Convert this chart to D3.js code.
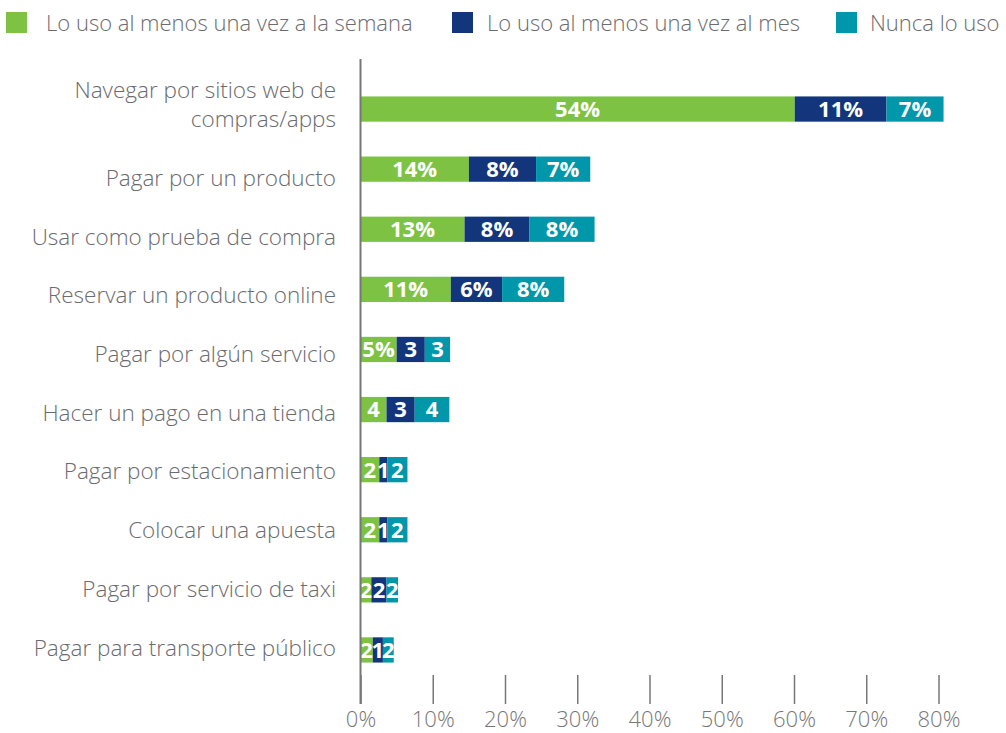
<!doctype html>
<html>
  <head>
    <meta charset="utf-8" />
    <title>Usos del móvil en compras</title>
    <style>
      body {
        margin: 0;
        background: #fff;
      }
      #chart text {
        font-family: 'Open Sans', sans-serif;
      }
    </style>
  </head>
  <body>
    <svg id="chart" width="1006" height="733"></svg>

    <script src="https://d3js.org/d3.v7.min.js"></script>
    <script>
      // categories, top to bottom (\n = line break)
      const categories = [
        'Navegar por sitios web de\ncompras/apps',
        'Pagar por un producto',
        'Usar como prueba de compra',
        'Reservar un producto online',
        'Pagar por algún servicio',
        'Hacer un pago en una tienda',
        'Pagar por estacionamiento',
        'Colocar una apuesta',
        'Pagar por servicio de taxi',
        'Pagar para transporte público',
      ];

      const seriesNames = [
        'Lo uso al menos una vez a la semana',
        'Lo uso al menos una vez al mes',
        'Nunca lo uso',
      ];

      // bar lengths as drawn (in %)
      const weekly = [60.1, 15.0, 14.4, 12.5, 5.0, 3.6, 2.6, 2.6, 1.5, 1.7];
      const monthly = [12.7, 9.3, 9.0, 7.1, 3.9, 3.9, 1.1, 1.1, 2.1, 1.4];
      const never = [7.9, 7.5, 9.0, 8.6, 3.5, 4.8, 2.8, 2.8, 1.6, 1.5];

      // the labels printed on the bars
      const weeklyLabels = ['54%', '14%', '13%', '11%', '5%', '4', '2', '2', '2', '2'];
      const monthlyLabels = ['11%', '8%', '8%', '6%', '3', '3', '1', '1', '2', '1'];
      const neverLabels = ['7%', '7%', '8%', '8%', '3', '4', '2', '2', '2', '2'];

      const xTicks = [0, 10, 20, 30, 40, 50, 60, 70, 80];

      const colors = ['#7dc242', '#12357b', '#0097ab'];
      const textGray = '#6a6b6e';

      const svg = d3.select('#chart');

      const x = d3.scaleLinear().domain([0, 80]).range([360.5, 938.5]);
      const y = d3
        .scaleBand()
        .domain(categories)
        .range([79, 680])
        .paddingInner(0.58)
        .paddingOuter(0.29);
      // the category texts sit on their own, slightly tighter spacing
      const yLabel = d3.scalePoint().domain(categories).range([119, 647.5]);

      const rows = categories.map((c, i) => ({
        cat: c,
        vals: [weekly[i], monthly[i], never[i]],
        labels: [weeklyLabels[i], monthlyLabels[i], neverLabels[i]],
      }));

      // legend
      const legendSwatchX = [6, 452, 836];
      const legendTextX = [46, 487, 870];
      seriesNames.forEach((name, i) => {
        svg
          .append('rect')
          .attr('x', legendSwatchX[i])
          .attr('y', 12)
          .attr('width', 21)
          .attr('height', 21)
          .attr('fill', colors[i]);
        svg
          .append('text')
          .attr('x', legendTextX[i])
          .attr('y', 23)
          .attr('dy', '0.36em')
          .attr('font-size', 22)
          .attr('font-weight', 300)
          .attr('fill', textGray)
          .text(name);
      });

      // bars
      rows.forEach((r) => {
        let acc = 0;
        r.vals.forEach((v, k) => {
          const x0 = x(acc);
          const x1 = x(acc + v);
          svg
            .append('rect')
            .attr('x', x0)
            .attr('y', y(r.cat))
            .attr('width', x1 - x0)
            .attr('height', y.bandwidth())
            .attr('fill', colors[k]);
          acc += v;
        });
      });

      // bar labels
      rows.forEach((r) => {
        let acc = 0;
        r.vals.forEach((v, k) => {
          svg
            .append('text')
            .attr('x', x(acc + v / 2))
            .attr('y', y(r.cat) + y.bandwidth() / 2)
            .attr('dy', '0.36em')
            .attr('text-anchor', 'middle')
            .attr('font-size', 22)
            .attr('font-weight', 700)
            .attr('fill', '#fff')
            .text(r.labels[k]);
          acc += v;
        });
      });

      // category labels (last line on the label position, earlier lines stacked above)
      rows.forEach((r) => {
        const lines = r.cat.split('\n');
        const cy = yLabel(r.cat);
        const t = svg
          .append('text')
          .attr('text-anchor', 'end')
          .attr('font-size', 22.5)
          .attr('font-weight', 300)
          .attr('fill', textGray);
        lines.forEach((ln, j) => {
          t.append('tspan')
            .attr('x', 336)
            .attr('y', cy - (lines.length - 1 - j) * 29)
            .attr('dy', '0.36em')
            .text(ln);
        });
      });

      // vertical axis line
      svg
        .append('line')
        .attr('x1', x(0))
        .attr('x2', x(0))
        .attr('y1', 59)
        .attr('y2', 704)
        .attr('stroke', '#777')
        .attr('stroke-width', 2);

      // bottom axis
      const xAxis = d3
        .axisBottom(x)
        .tickValues(xTicks)
        .tickSize(0)
        .tickFormat((d) => d + '%');
      const ax = svg.append('g').attr('transform', 'translate(0,704)').call(xAxis);
      ax.select('.domain').remove();
      ax.selectAll('.tick line')
        .attr('y1', -29)
        .attr('y2', 0)
        .attr('stroke', '#777')
        .attr('stroke-width', 1.5);
      ax.selectAll('.tick text')
        .attr('y', 15)
        .attr('dy', '0.36em')
        .attr('font-size', 22)
        .attr('font-weight', 300)
        .attr('fill', '#777');
    </script>
  </body>
</html>
